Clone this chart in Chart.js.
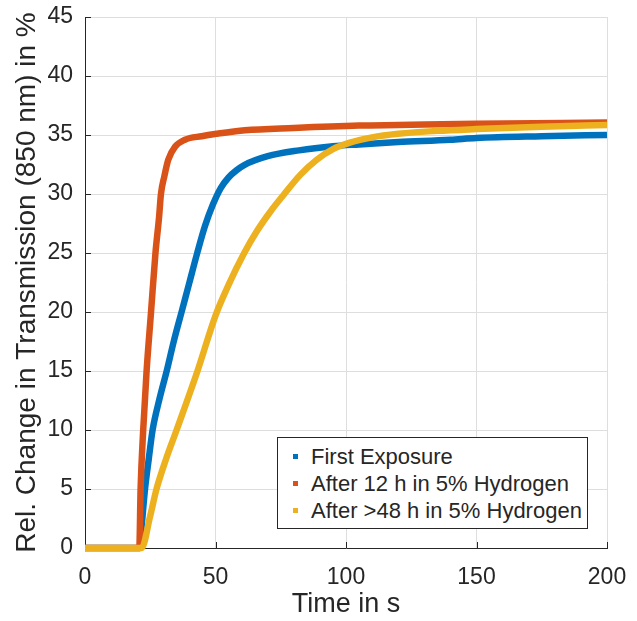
<!DOCTYPE html>
<html><head><meta charset="utf-8">
<script src="https://cdn.jsdelivr.net/npm/chart.js@4.4.1/dist/chart.umd.min.js"></script>
<style>
html,body{margin:0;padding:0;background:#fff;}
#wrap{position:relative;width:637px;height:621px;}
#legend{position:absolute;left:277px;top:437px;width:311px;height:92px;border:1px solid #262626;background:#fff;box-sizing:border-box;font-family:"Liberation Sans",Arial,Helvetica,sans-serif;font-size:22px;color:#262626;}
#legend .row{position:absolute;left:0;height:27px;line-height:27px;white-space:nowrap;}
#legend .mk{position:absolute;left:15px;top:11px;width:5px;height:5px;}
#legend .tx{position:absolute;left:33px;top:0;}
</style>
</head><body>
<div id="wrap">
<canvas id="c" width="637" height="621"></canvas>
<div id="legend"></div>
</div>
<script>
// ---- data ----
const seriesNames = ["First Exposure", "After 12 h in 5% Hydrogen", "After >48 h in 5% Hydrogen"];
const seriesColors = ["#0072BD", "#D95319", "#EDB120"];

const timeFirst = [0, 21, 21.7, 23, 24.4, 25.9, 28.5, 31.3, 34, 37, 40, 43, 46, 49, 52, 55, 58, 61, 70, 82, 95, 105, 120, 140, 150, 175, 200];
const valFirst  = [0, 0, 1.8, 5, 7.5, 10, 12.6, 15, 17.5, 20, 22.5, 25, 27.3, 29.1, 30.5, 31.4, 32.0, 32.45, 33.2, 33.7, 34.05, 34.2, 34.4, 34.6, 34.75, 34.9, 35.0];

const time12h = [0, 20.8, 21.3, 22.3, 23.6, 25.3, 27, 28.4, 29.1, 30.4, 31.9, 34.5, 38.3, 44.7, 50.4, 61.3, 80, 105, 120, 150, 200];
const val12h  = [0, 0, 5, 10, 15, 20, 25, 28.1, 30, 31.5, 32.9, 34.0, 34.6, 34.9, 35.1, 35.4, 35.6, 35.8, 35.85, 35.95, 36.05];

const time48h = [0, 21.7, 24.9, 27.4, 31, 35.1, 43.1, 50, 55, 61, 66, 71, 76, 82.4, 88.8, 95, 101.5, 110, 120, 135, 150, 175, 200];
const val48h  = [0, 0, 2.65, 5, 7.5, 10, 15, 19.7, 22.3, 25.0, 26.9, 28.5, 29.9, 31.6, 32.9, 33.8, 34.35, 34.8, 35.1, 35.35, 35.5, 35.7, 35.85];

const xTicks = [0, 50, 100, 150, 200];
const yTicks = [0, 5, 10, 15, 20, 25, 30, 35, 40, 45];
const xTitle = "Time in s";
const yTitle = "Rel. Change in Transmission (850 nm) in %";

// ---- build ----
function pts(t, v) { return t.map((x, i) => ({x: x, y: v[i]})); }
const FONT = '"Liberation Sans", Arial, Helvetica, sans-serif';
const AX = '#262626';

const inwardTicks = {
  id: 'inwardTicks',
  beforeDatasetsDraw(chart) {
    const ctx = chart.ctx, a = chart.chartArea;
    const xs = chart.scales.x, ys = chart.scales.y;
    ctx.save();
    ctx.strokeStyle = AX; ctx.lineWidth = 1;
    ctx.beginPath();
    xTicks.forEach(v => { const p = Math.round(xs.getPixelForValue(v)) + 0.5; ctx.moveTo(p, a.bottom); ctx.lineTo(p, a.bottom - 6); });
    yTicks.forEach(v => { const p = Math.round(ys.getPixelForValue(v)) + 0.5; ctx.moveTo(a.left, p); ctx.lineTo(a.left + 6, p); });
    ctx.stroke();
    ctx.restore();
  }
};

const datasets = [
  {label: seriesNames[0], data: pts(timeFirst, valFirst), borderColor: seriesColors[0], order: 2},
  {label: seriesNames[1], data: pts(time12h, val12h), borderColor: seriesColors[1], order: 1},
  {label: seriesNames[2], data: pts(time48h, val48h), borderColor: seriesColors[2], order: 0}
].map(d => Object.assign(d, {borderWidth: 6.5, pointRadius: 0, cubicInterpolationMode: 'monotone', clip: false, fill: false, borderCapStyle: 'butt', borderJoinStyle: 'round'}));

new Chart(document.getElementById('c'), {
  type: 'line',
  data: {datasets},
  options: {
    responsive: false, animation: false, devicePixelRatio: 1,
    layout: {padding: {top: 17, right: 30, left: 0, bottom: 0}},
    plugins: {legend: {display: false}, tooltip: {enabled: false}},
    scales: {
      x: {
        type: 'linear', min: 0, max: 200,
        afterBuildTicks: s => { s.ticks = xTicks.map(v => ({value: v})); },
        afterFit: s => { s.height = 73; s.paddingLeft = 0; s.paddingRight = 0; },
        ticks: {color: AX, font: {family: FONT, size: 23}, padding: 16, maxRotation: 0},
        grid: {color: '#dedede', drawTicks: false},
        border: {color: AX, width: 1},
        title: {display: true, text: xTitle, color: AX, font: {family: FONT, size: 27}, padding: {top: 0, bottom: 0}}
      },
      y: {
        type: 'linear', min: 0, max: 45,
        afterBuildTicks: s => { s.ticks = yTicks.map(v => ({value: v})); },
        afterFit: s => { s.width = 85; s.paddingTop = 0; s.paddingBottom = 0; },
        ticks: {color: AX, font: {family: FONT, size: 23}, padding: 12},
        grid: {color: '#dedede', drawTicks: false},
        border: {color: AX, width: 1},
        title: {display: true, text: yTitle, color: AX, font: {family: FONT, size: 28}, padding: {top: 10, bottom: 0}}
      }
    }
  },
  plugins: [inwardTicks]
});

// legend
const lg = document.getElementById('legend');
seriesNames.forEach((n, i) => {
  const r = document.createElement('div');
  r.className = 'row';
  r.style.top = (5 + i * 27) + 'px';
  r.innerHTML = '<span class="mk" style="background:' + seriesColors[i] + '"></span><span class="tx"></span>';
  r.querySelector('.tx').textContent = n;
  lg.appendChild(r);
});
</script>
</body></html>
